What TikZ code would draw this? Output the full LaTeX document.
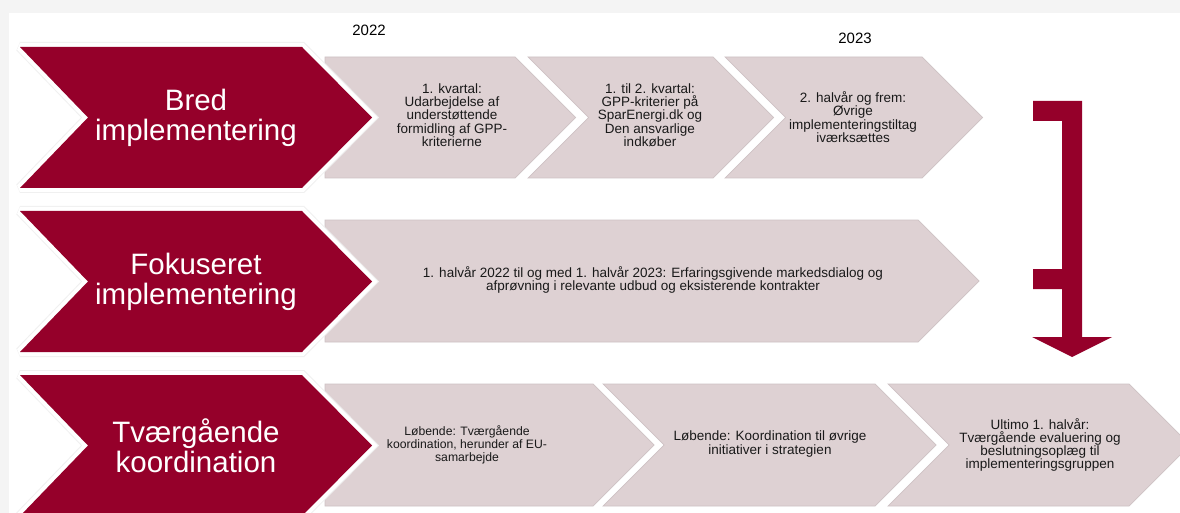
\documentclass[tikz,border=0pt]{standalone}
\usepackage{fontspec}
\setmainfont{Liberation Sans}
\usepackage{xcolor}
\usepackage{tikz}
\usetikzlibrary{calc}

\definecolor{wine}{RGB}{149,0,42}
\definecolor{rose}{RGB}{222,209,211}
\definecolor{frame}{RGB}{244,244,244}

\tikzset{
  phase/.style={fill=wine,
    preaction={draw=black!6, line width=10pt, line join=miter, miter limit=1.5},
    preaction={draw=white, line width=8pt, line join=miter, miter limit=1.5}},
  stage/.style={fill=rose, draw=rose!93!black, line width=0.7pt},
  phasetext/.style={text=white, align=center, font=\fontsize{29.5}{30}\selectfont},
  stagetext/.style={text=black!90, align=center, font=\fontsize{13.5}{13.3}\selectfont},
  yeartext/.style={text=black, font=\fontsize{15}{15}\selectfont}
}

\begin{document}
\begin{tikzpicture}[x=1pt, y=-1pt]
  \useasboundingbox (0, 0) rectangle (1180, 513);
  \clip (0, 0) rectangle (1180, 513);
  \fill[frame] (0, 0) rectangle (1180, 513);
  \fill[white] (9, 13) rectangle (1180, 513);

  % Years
  \node[yeartext] (y22) at (369, 30) {2022};
  \node[yeartext] (y23) at (855, 38.5) {2023};

  % Bred implementering
  \begin{scope}
    \fill[stage] (325, 57) -- (515, 57) -- (575.5, 117.5) -- (515, 178) -- (325, 178) -- cycle;
    \fill[stage] (528, 57) -- (713, 57) -- (773.5, 117.5) -- (713, 178) -- (528, 178) -- (588.5, 117.5) -- cycle;
    \fill[stage] (725, 57) -- (922, 57) -- (982.5, 117.5) -- (922, 178) -- (725, 178) -- (785.5, 117.5) -- cycle;
    \fill[phase] (20, 47) -- (302, 47) -- (372, 117.5) -- (302, 188) -- (20, 188) -- (88, 117.5) -- cycle;
    \node[phasetext] (bred) at (196, 117.5) {Bred\\implementering};
    \node[stagetext] (b1) at (452, 115) {1. kvartal:\\Udarbejdelse af\\understøttende\\formidling af GPP-\\kriterierne};
    \node[stagetext] (b2) at (650, 115) {1. til 2. kvartal:\\GPP-kriterier på\\SparEnergi.dk og\\Den ansvarlige\\indkøber};
    \node[stagetext] (b3) at (853, 117) {2. halvår og frem:\\Øvrige\\implementeringstiltag\\iværksættes};
  \end{scope}

  % Fokuseret implementering
  \begin{scope}
    \fill[stage] (325, 220) -- (918, 220) -- (979, 281) -- (918, 342) -- (325, 342) -- cycle;
    \fill[phase] (20, 211) -- (302, 211) -- (372, 281.5) -- (302, 352) -- (20, 352) -- (88, 281.5) -- cycle;
    \node[phasetext] (fokus) at (196, 281.5) {Fokuseret\\implementering};
    \node[stagetext] (f1) at (653, 280) {1. halvår 2022 til og med 1. halvår 2023: Erfaringsgivende markedsdialog og\\afprøvning i relevante udbud og eksisterende kontrakter};
  \end{scope}

  % Tvaergaaende koordination
  \begin{scope}
    \fill[stage] (325, 384) -- (593, 384) -- (654, 445) -- (593, 506) -- (325, 506) -- cycle;
    \fill[stage] (603, 384) -- (875, 384) -- (936, 445) -- (875, 506) -- (603, 506) -- (664, 445) -- cycle;
    \fill[stage] (888, 384) -- (1129, 384) -- (1190, 445) -- (1129, 506) -- (888, 506) -- (949, 445) -- cycle;
    \fill[phase] (20, 375) -- (302, 375) -- (372, 445.5) -- (302, 516) -- (20, 516) -- (88, 445.5) -- cycle;
    \node[phasetext] (tvaer) at (196, 445.5) {Tværgående\\koordination};
    \node[stagetext, font=\fontsize{12.2}{13.3}\selectfont] (t1) at (467, 445) {Løbende: Tværgående\\koordination, herunder af EU-\\samarbejde};
    \node[stagetext] (t2) at (770, 444) {Løbende: Koordination til øvrige\\initiativer i strategien};
    \node[stagetext] (t3) at (1040, 445) {Ultimo 1. halvår:\\Tværgående evaluering og\\beslutningsoplæg til\\implementeringsgruppen};
  \end{scope}

  % Bracket arrow
  \fill[wine] (1033, 101) -- (1082, 101) -- (1082, 337) -- (1112, 337) -- (1072, 357)
    -- (1032, 337) -- (1062, 337) -- (1062, 289) -- (1033, 289) -- (1033, 269)
    -- (1062, 269) -- (1062, 121) -- (1033, 121) -- cycle;
\end{tikzpicture}
\end{document}
